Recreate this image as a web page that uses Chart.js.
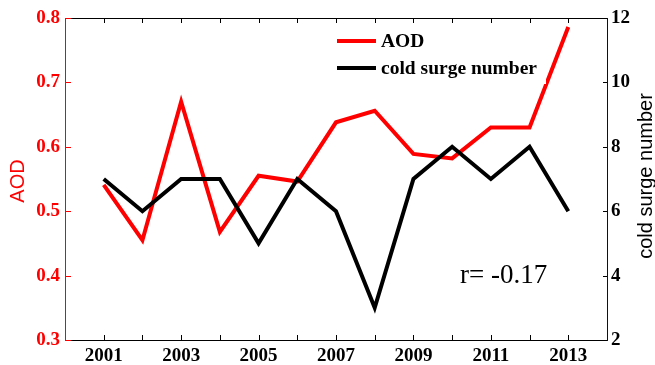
<!DOCTYPE html>
<html>
<head>
<meta charset="utf-8">
<script src="https://cdn.jsdelivr.net/npm/chart.js@4.4.0/dist/chart.umd.min.js"></script>
<style>
  html, body { margin: 0; padding: 0; background: #fff; }
  canvas { display: block; }
</style>
</head>
<body>
<canvas id="c" width="655" height="365"></canvas>
<script>
const years = [2001, 2002, 2003, 2004, 2005, 2006, 2007, 2008, 2009, 2010, 2011, 2012, 2013];
const aod = [0.541, 0.455, 0.670, 0.468, 0.555, 0.546, 0.638, 0.656, 0.589, 0.582, 0.630, 0.630, 0.786];
const coldSurge = [7, 6, 7, 7, 5, 7, 6, 3, 7, 8, 7, 8, 6];
const xLabels = ['2001', '2003', '2005', '2007', '2009', '2011', '2013'];
const aodTicks = [0.3, 0.4, 0.5, 0.6, 0.7, 0.8];
const surgeTicks = [2, 4, 6, 8, 10, 12];
const seriesNames = ['AOD', 'cold surge number'];
const annotationText = 'r= -0.17';

const serif = '"Liberation Serif", "Times New Roman", serif';
const sans = '"Liberation Sans", Arial, sans-serif';

const decorPlugin = {
  id: 'decor',
  afterDatasetsDraw(chart) {
    const ctx = chart.ctx;
    const a = chart.chartArea;
    const xs = chart.scales.x, ys = chart.scales.y, ys1 = chart.scales.y1;
    ctx.save();
    // frame
    ctx.lineWidth = 1;
    ctx.strokeStyle = '#000';
    ctx.beginPath();
    ctx.moveTo(a.left, a.top + 0.5); ctx.lineTo(a.right, a.top + 0.5);
    ctx.moveTo(a.left, a.bottom + 0.5); ctx.lineTo(a.right, a.bottom + 0.5);
    ctx.stroke();
    ctx.strokeStyle = '#ff0000';
    ctx.beginPath();
    ctx.moveTo(a.left + 0.5, a.top); ctx.lineTo(a.left + 0.5, a.bottom + 1);
    ctx.stroke();
    ctx.strokeStyle = '#3a0000';
    ctx.beginPath();
    ctx.moveTo(a.right + 0.5, a.top); ctx.lineTo(a.right + 0.5, a.bottom + 1);
    ctx.stroke();
    // x ticks (inward, top and bottom)
    ctx.strokeStyle = '#000';
    ctx.beginPath();
    for (let yr = 2001; yr <= 2013; yr++) {
      const px = Math.round(xs.getPixelForValue(yr)) + 0.5;
      ctx.moveTo(px, a.bottom); ctx.lineTo(px, a.bottom - 5);
      ctx.moveTo(px, a.top); ctx.lineTo(px, a.top + 5);
    }
    ctx.stroke();
    // left ticks
    ctx.strokeStyle = '#ff0000';
    ctx.beginPath();
    aodTicks.forEach(v => {
      const py = Math.round(ys.getPixelForValue(v)) + 0.5;
      ctx.moveTo(a.left, py); ctx.lineTo(a.left + 6, py);
    });
    ctx.stroke();
    // right ticks
    ctx.strokeStyle = '#000';
    ctx.beginPath();
    surgeTicks.forEach(v => {
      const py = Math.round(ys1.getPixelForValue(v)) + 0.5;
      ctx.moveTo(a.right, py); ctx.lineTo(a.right - 4, py);
    });
    ctx.stroke();

    // legend
    const ds = chart.data.datasets;
    const lx = 337, ly = 41, gap = 27;
    ctx.fillStyle = '#fff';
    ctx.fillRect(331, 26, 215, 58);
    [0, 1].forEach(i => {
      const y = ly + i * gap;
      ctx.strokeStyle = ds[i].borderColor;
      ctx.lineWidth = 4;
      ctx.beginPath();
      ctx.moveTo(lx, y); ctx.lineTo(lx + 39, y);
      ctx.stroke();
      ctx.fillStyle = '#000';
      ctx.font = 'bold 19.5px ' + serif;
      ctx.textBaseline = 'middle';
      ctx.textAlign = 'left';
      ctx.fillText(ds[i].label, lx + 44, y + 1);
    });

    // annotation
    ctx.fillStyle = '#000';
    ctx.font = '27px ' + serif;
    ctx.textBaseline = 'alphabetic';
    ctx.textAlign = 'left';
    ctx.fillText(annotationText, 460, 283);

    // axis titles
    ctx.font = '20px ' + sans;
    ctx.textAlign = 'center';
    ctx.textBaseline = 'middle';
    ctx.fillStyle = '#ff0000';
    ctx.save();
    ctx.translate(18, 181);
    ctx.rotate(-Math.PI / 2);
    ctx.fillText(seriesNames[0], 0, 0);
    ctx.restore();
    ctx.fillStyle = '#000';
    ctx.save();
    ctx.translate(646, 176);
    ctx.rotate(-Math.PI / 2);
    ctx.fillText(seriesNames[1], 0, 0);
    ctx.restore();
    ctx.restore();
  }
};

new Chart(document.getElementById('c'), {
  type: 'line',
  data: {
    datasets: [
      {
        label: seriesNames[0],
        data: years.map((y, i) => ({ x: y, y: aod[i] })),
        borderColor: '#ff0000',
        borderWidth: 4,
        pointRadius: 0,
        tension: 0,
        yAxisID: 'y',
        order: 1
      },
      {
        label: seriesNames[1],
        data: years.map((y, i) => ({ x: y, y: coldSurge[i] })),
        borderColor: '#000000',
        borderWidth: 4,
        pointRadius: 0,
        tension: 0,
        yAxisID: 'y1',
        order: 0
      }
    ]
  },
  options: {
    responsive: false,
    animation: false,
    devicePixelRatio: 1,
    layout: { padding: { top: 18, left: 0, right: 0, bottom: 0 } },
    plugins: { legend: { display: false }, tooltip: { enabled: false } },
    scales: {
      x: {
        type: 'linear',
        min: 2000, max: 2014,
        afterBuildTicks(scale) {
          scale.ticks = xLabels.map(v => ({ value: Number(v) }));
        },
        ticks: {
          autoSkip: false, maxRotation: 0, padding: 5,
          color: '#000',
          font: { family: serif, size: 19, weight: 'bold' },
          callback: v => String(v)
        },
        grid: { display: false, drawTicks: false },
        border: { display: false },
        afterFit(scale) { scale.height = 25; }
      },
      y: {
        position: 'left',
        min: 0.3, max: 0.8,
        afterBuildTicks(scale) {
          scale.ticks = aodTicks.map(v => ({ value: v }));
        },
        ticks: {
          padding: 5, color: '#ff0000',
          font: { family: serif, size: 19, weight: 'bold' },
          callback: v => Number(v).toFixed(1)
        },
        grid: { display: false, drawTicks: false },
        border: { display: false },
        afterFit(scale) { scale.width = 65; }
      },
      y1: {
        position: 'right',
        min: 2, max: 12,
        afterBuildTicks(scale) {
          scale.ticks = surgeTicks.map(v => ({ value: v }));
        },
        ticks: {
          padding: 4, color: '#000',
          font: { family: serif, size: 19, weight: 'bold' },
          callback: v => String(v)
        },
        grid: { display: false, drawTicks: false },
        border: { display: false },
        afterFit(scale) { scale.width = 48; }
      }
    }
  },
  plugins: [decorPlugin]
});
</script>
</body>
</html>
